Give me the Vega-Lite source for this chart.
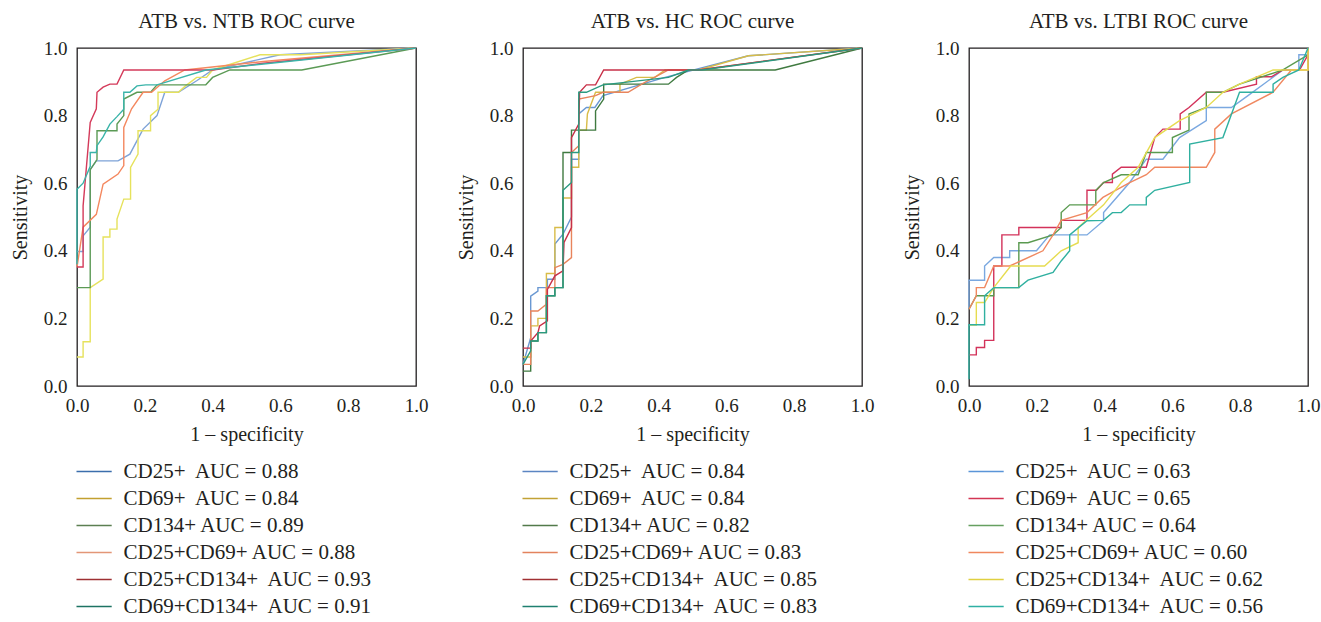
{
 "$schema": "https://vega.github.io/schema/vega-lite/v6.json",
 "padding": {"left": 9, "top": 10, "right": 0, "bottom": 0},
 "background": "white",
 "spacing": 107,
 "bounds": "flush",
 "config": {
  "font": "Liberation Serif",
  "view": {"stroke": "#231f20", "strokeWidth": 1.3},
  "axis": {"grid": false, "ticks": false, "domain": false, "labelFont": "Liberation Serif", "labelFontSize": 19, "labelColor": "#231f20", "titleFont": "Liberation Serif", "titleFontSize": 20, "titleFontWeight": "normal", "titleColor": "#231f20", "labelFlush": false, "labelOverlap": false},
  "title": {"font": "Liberation Serif", "fontSize": 21, "fontWeight": "normal", "color": "#231f20", "offset": 7},
  "line": {"strokeWidth": 1.4}
 },
 "datasets": {
  "ntb": [
   {"s":"CD25+","x":0,"y":0.398},{"s":"CD25+","x":0.018,"y":0.398},{"s":"CD25+","x":0.018,"y":0.444},{"s":"CD25+","x":0.039,"y":0.47},{"s":"CD25+","x":0.039,"y":0.64},{"s":"CD25+","x":0.057,"y":0.666},{"s":"CD25+","x":0.121,"y":0.666},{"s":"CD25+","x":0.156,"y":0.686},{"s":"CD25+","x":0.195,"y":0.76},{"s":"CD25+","x":0.236,"y":0.8},{"s":"CD25+","x":0.259,"y":0.869},{"s":"CD25+","x":0.299,"y":0.869},{"s":"CD25+","x":0.353,"y":0.903},{"s":"CD25+","x":0.4,"y":0.935},{"s":"CD25+","x":0.599,"y":0.98},{"s":"CD25+","x":1,"y":1},
   {"s":"CD69+","x":0,"y":0.086},{"s":"CD69+","x":0.018,"y":0.086},{"s":"CD69+","x":0.018,"y":0.131},{"s":"CD69+","x":0.039,"y":0.131},{"s":"CD69+","x":0.039,"y":0.291},{"s":"CD69+","x":0.077,"y":0.316},{"s":"CD69+","x":0.077,"y":0.441},{"s":"CD69+","x":0.097,"y":0.441},{"s":"CD69+","x":0.097,"y":0.464},{"s":"CD69+","x":0.118,"y":0.464},{"s":"CD69+","x":0.118,"y":0.494},{"s":"CD69+","x":0.138,"y":0.553},{"s":"CD69+","x":0.158,"y":0.553},{"s":"CD69+","x":0.158,"y":0.647},{"s":"CD69+","x":0.18,"y":0.686},{"s":"CD69+","x":0.18,"y":0.755},{"s":"CD69+","x":0.217,"y":0.755},{"s":"CD69+","x":0.217,"y":0.8},{"s":"CD69+","x":0.239,"y":0.819},{"s":"CD69+","x":0.239,"y":0.869},{"s":"CD69+","x":0.299,"y":0.869},{"s":"CD69+","x":0.32,"y":0.888},{"s":"CD69+","x":0.353,"y":0.913},{"s":"CD69+","x":0.382,"y":0.913},{"s":"CD69+","x":0.4,"y":0.935},{"s":"CD69+","x":0.54,"y":0.98},{"s":"CD69+","x":0.66,"y":0.98},{"s":"CD69+","x":1,"y":1},
   {"s":"CD134+","x":0,"y":0.291},{"s":"CD134+","x":0.039,"y":0.291},{"s":"CD134+","x":0.039,"y":0.64},{"s":"CD134+","x":0.059,"y":0.67},{"s":"CD134+","x":0.059,"y":0.755},{"s":"CD134+","x":0.118,"y":0.755},{"s":"CD134+","x":0.118,"y":0.775},{"s":"CD134+","x":0.138,"y":0.8},{"s":"CD134+","x":0.138,"y":0.849},{"s":"CD134+","x":0.177,"y":0.869},{"s":"CD134+","x":0.217,"y":0.869},{"s":"CD134+","x":0.236,"y":0.891},{"s":"CD134+","x":0.38,"y":0.891},{"s":"CD134+","x":0.4,"y":0.913},{"s":"CD134+","x":0.451,"y":0.935},{"s":"CD134+","x":0.663,"y":0.935},{"s":"CD134+","x":1,"y":1},
   {"s":"CD25+CD69+","x":0,"y":0.352},{"s":"CD25+CD69+","x":0.018,"y":0.47},{"s":"CD25+CD69+","x":0.057,"y":0.508},{"s":"CD25+CD69+","x":0.077,"y":0.597},{"s":"CD25+CD69+","x":0.121,"y":0.627},{"s":"CD25+CD69+","x":0.138,"y":0.652},{"s":"CD25+CD69+","x":0.138,"y":0.765},{"s":"CD25+CD69+","x":0.161,"y":0.82},{"s":"CD25+CD69+","x":0.195,"y":0.869},{"s":"CD25+CD69+","x":0.22,"y":0.869},{"s":"CD25+CD69+","x":0.259,"y":0.903},{"s":"CD25+CD69+","x":0.318,"y":0.935},{"s":"CD25+CD69+","x":0.55,"y":0.96},{"s":"CD25+CD69+","x":1,"y":1},
   {"s":"CD25+CD134+","x":0,"y":0.352},{"s":"CD25+CD134+","x":0.018,"y":0.352},{"s":"CD25+CD134+","x":0.018,"y":0.533},{"s":"CD25+CD134+","x":0.039,"y":0.78},{"s":"CD25+CD134+","x":0.057,"y":0.82},{"s":"CD25+CD134+","x":0.059,"y":0.869},{"s":"CD25+CD134+","x":0.077,"y":0.884},{"s":"CD25+CD134+","x":0.097,"y":0.893},{"s":"CD25+CD134+","x":0.118,"y":0.893},{"s":"CD25+CD134+","x":0.138,"y":0.935},{"s":"CD25+CD134+","x":0.4,"y":0.935},{"s":"CD25+CD134+","x":0.55,"y":0.955},{"s":"CD25+CD134+","x":1,"y":1},
   {"s":"CD69+CD134+","x":0,"y":0.36},{"s":"CD69+CD134+","x":0,"y":0.582},{"s":"CD69+CD134+","x":0.018,"y":0.6},{"s":"CD69+CD134+","x":0.039,"y":0.65},{"s":"CD69+CD134+","x":0.039,"y":0.691},{"s":"CD69+CD134+","x":0.057,"y":0.691},{"s":"CD69+CD134+","x":0.059,"y":0.711},{"s":"CD69+CD134+","x":0.077,"y":0.737},{"s":"CD69+CD134+","x":0.097,"y":0.775},{"s":"CD69+CD134+","x":0.118,"y":0.797},{"s":"CD69+CD134+","x":0.138,"y":0.819},{"s":"CD69+CD134+","x":0.138,"y":0.869},{"s":"CD69+CD134+","x":0.156,"y":0.869},{"s":"CD69+CD134+","x":0.177,"y":0.888},{"s":"CD69+CD134+","x":0.203,"y":0.891},{"s":"CD69+CD134+","x":0.236,"y":0.891},{"s":"CD69+CD134+","x":0.38,"y":0.935},{"s":"CD69+CD134+","x":1,"y":1}
  ],
  "hc": [
   {"s":"CD25+","x":0,"y":0.064},{"s":"CD25+","x":0.0227,"y":0.143},{"s":"CD25+","x":0.0227,"y":0.266},{"s":"CD25+","x":0.044,"y":0.281},{"s":"CD25+","x":0.044,"y":0.291},{"s":"CD25+","x":0.072,"y":0.291},{"s":"CD25+","x":0.072,"y":0.316},{"s":"CD25+","x":0.094,"y":0.316},{"s":"CD25+","x":0.094,"y":0.42},{"s":"CD25+","x":0.118,"y":0.449},{"s":"CD25+","x":0.143,"y":0.5},{"s":"CD25+","x":0.143,"y":0.671},{"s":"CD25+","x":0.1645,"y":0.671},{"s":"CD25+","x":0.1645,"y":0.805},{"s":"CD25+","x":0.187,"y":0.824},{"s":"CD25+","x":0.212,"y":0.824},{"s":"CD25+","x":0.236,"y":0.859},{"s":"CD25+","x":0.419,"y":0.913},{"s":"CD25+","x":0.665,"y":0.977},{"s":"CD25+","x":1,"y":1},
   {"s":"CD69+","x":0,"y":0.086},{"s":"CD69+","x":0.0227,"y":0.086},{"s":"CD69+","x":0.0227,"y":0.178},{"s":"CD69+","x":0.044,"y":0.178},{"s":"CD69+","x":0.044,"y":0.2},{"s":"CD69+","x":0.069,"y":0.2},{"s":"CD69+","x":0.069,"y":0.333},{"s":"CD69+","x":0.094,"y":0.333},{"s":"CD69+","x":0.094,"y":0.469},{"s":"CD69+","x":0.118,"y":0.469},{"s":"CD69+","x":0.118,"y":0.556},{"s":"CD69+","x":0.143,"y":0.556},{"s":"CD69+","x":0.143,"y":0.647},{"s":"CD69+","x":0.1645,"y":0.647},{"s":"CD69+","x":0.1645,"y":0.757},{"s":"CD69+","x":0.187,"y":0.757},{"s":"CD69+","x":0.19,"y":0.805},{"s":"CD69+","x":0.214,"y":0.869},{"s":"CD69+","x":0.286,"y":0.869},{"s":"CD69+","x":0.286,"y":0.893},{"s":"CD69+","x":0.335,"y":0.913},{"s":"CD69+","x":0.389,"y":0.913},{"s":"CD69+","x":0.419,"y":0.935},{"s":"CD69+","x":0.517,"y":0.935},{"s":"CD69+","x":0.665,"y":0.977},{"s":"CD69+","x":1,"y":1},
   {"s":"CD134+","x":0,"y":0.044},{"s":"CD134+","x":0.0227,"y":0.044},{"s":"CD134+","x":0.0227,"y":0.133},{"s":"CD134+","x":0.044,"y":0.133},{"s":"CD134+","x":0.044,"y":0.158},{"s":"CD134+","x":0.069,"y":0.158},{"s":"CD134+","x":0.069,"y":0.267},{"s":"CD134+","x":0.094,"y":0.267},{"s":"CD134+","x":0.094,"y":0.291},{"s":"CD134+","x":0.118,"y":0.291},{"s":"CD134+","x":0.118,"y":0.691},{"s":"CD134+","x":0.143,"y":0.691},{"s":"CD134+","x":0.143,"y":0.757},{"s":"CD134+","x":0.214,"y":0.757},{"s":"CD134+","x":0.214,"y":0.814},{"s":"CD134+","x":0.238,"y":0.849},{"s":"CD134+","x":0.238,"y":0.893},{"s":"CD134+","x":0.429,"y":0.893},{"s":"CD134+","x":0.453,"y":0.913},{"s":"CD134+","x":0.488,"y":0.935},{"s":"CD134+","x":0.744,"y":0.935},{"s":"CD134+","x":1,"y":1},
   {"s":"CD25+CD69+","x":0,"y":0.064},{"s":"CD25+CD69+","x":0.0227,"y":0.064},{"s":"CD25+CD69+","x":0.0227,"y":0.222},{"s":"CD25+CD69+","x":0.044,"y":0.222},{"s":"CD25+CD69+","x":0.069,"y":0.242},{"s":"CD25+CD69+","x":0.069,"y":0.291},{"s":"CD25+CD69+","x":0.094,"y":0.291},{"s":"CD25+CD69+","x":0.094,"y":0.35},{"s":"CD25+CD69+","x":0.118,"y":0.36},{"s":"CD25+CD69+","x":0.143,"y":0.38},{"s":"CD25+CD69+","x":0.143,"y":0.691},{"s":"CD25+CD69+","x":0.1645,"y":0.711},{"s":"CD25+CD69+","x":0.1645,"y":0.849},{"s":"CD25+CD69+","x":0.214,"y":0.859},{"s":"CD25+CD69+","x":0.236,"y":0.869},{"s":"CD25+CD69+","x":0.31,"y":0.869},{"s":"CD25+CD69+","x":0.35,"y":0.893},{"s":"CD25+CD69+","x":0.429,"y":0.935},{"s":"CD25+CD69+","x":0.517,"y":0.935},{"s":"CD25+CD69+","x":1,"y":1},
   {"s":"CD25+CD134+","x":0,"y":0.112},{"s":"CD25+CD134+","x":0.0227,"y":0.112},{"s":"CD25+CD134+","x":0.0227,"y":0.133},{"s":"CD25+CD134+","x":0.044,"y":0.158},{"s":"CD25+CD134+","x":0.049,"y":0.178},{"s":"CD25+CD134+","x":0.072,"y":0.193},{"s":"CD25+CD134+","x":0.072,"y":0.286},{"s":"CD25+CD134+","x":0.094,"y":0.326},{"s":"CD25+CD134+","x":0.118,"y":0.341},{"s":"CD25+CD134+","x":0.121,"y":0.425},{"s":"CD25+CD134+","x":0.143,"y":0.469},{"s":"CD25+CD134+","x":0.143,"y":0.735},{"s":"CD25+CD134+","x":0.1645,"y":0.775},{"s":"CD25+CD134+","x":0.167,"y":0.869},{"s":"CD25+CD134+","x":0.187,"y":0.891},{"s":"CD25+CD134+","x":0.214,"y":0.891},{"s":"CD25+CD134+","x":0.238,"y":0.935},{"s":"CD25+CD134+","x":0.517,"y":0.935},{"s":"CD25+CD134+","x":1,"y":1},
   {"s":"CD69+CD134+","x":0,"y":0.064},{"s":"CD69+CD134+","x":0.0227,"y":0.104},{"s":"CD69+CD134+","x":0.0227,"y":0.133},{"s":"CD69+CD134+","x":0.044,"y":0.133},{"s":"CD69+CD134+","x":0.044,"y":0.158},{"s":"CD69+CD134+","x":0.069,"y":0.158},{"s":"CD69+CD134+","x":0.069,"y":0.267},{"s":"CD69+CD134+","x":0.094,"y":0.267},{"s":"CD69+CD134+","x":0.094,"y":0.291},{"s":"CD69+CD134+","x":0.118,"y":0.291},{"s":"CD69+CD134+","x":0.118,"y":0.579},{"s":"CD69+CD134+","x":0.143,"y":0.602},{"s":"CD69+CD134+","x":0.143,"y":0.691},{"s":"CD69+CD134+","x":0.1645,"y":0.691},{"s":"CD69+CD134+","x":0.1645,"y":0.869},{"s":"CD69+CD134+","x":0.187,"y":0.869},{"s":"CD69+CD134+","x":0.236,"y":0.891},{"s":"CD69+CD134+","x":0.429,"y":0.913},{"s":"CD69+CD134+","x":0.488,"y":0.935},{"s":"CD69+CD134+","x":0.527,"y":0.935},{"s":"CD69+CD134+","x":1,"y":1}
  ],
  "ltbi": [
   {"s":"CD25+","x":0,"y":0.227},{"s":"CD25+","x":0,"y":0.313},{"s":"CD25+","x":0.046,"y":0.313},{"s":"CD25+","x":0.046,"y":0.355},{"s":"CD25+","x":0.073,"y":0.38},{"s":"CD25+","x":0.12,"y":0.38},{"s":"CD25+","x":0.12,"y":0.4},{"s":"CD25+","x":0.199,"y":0.4},{"s":"CD25+","x":0.238,"y":0.447},{"s":"CD25+","x":0.348,"y":0.447},{"s":"CD25+","x":0.397,"y":0.489},{"s":"CD25+","x":0.397,"y":0.513},{"s":"CD25+","x":0.474,"y":0.602},{"s":"CD25+","x":0.523,"y":0.671},{"s":"CD25+","x":0.572,"y":0.671},{"s":"CD25+","x":0.621,"y":0.735},{"s":"CD25+","x":0.7,"y":0.785},{"s":"CD25+","x":0.7,"y":0.824},{"s":"CD25+","x":0.774,"y":0.824},{"s":"CD25+","x":0.823,"y":0.859},{"s":"CD25+","x":0.926,"y":0.935},{"s":"CD25+","x":0.973,"y":0.935},{"s":"CD25+","x":0.973,"y":0.98},{"s":"CD25+","x":1,"y":0.98},{"s":"CD25+","x":1,"y":1},
   {"s":"CD69+","x":0,"y":0.092},{"s":"CD69+","x":0.0216,"y":0.092},{"s":"CD69+","x":0.0216,"y":0.114},{"s":"CD69+","x":0.046,"y":0.114},{"s":"CD69+","x":0.046,"y":0.135},{"s":"CD69+","x":0.073,"y":0.135},{"s":"CD69+","x":0.073,"y":0.355},{"s":"CD69+","x":0.097,"y":0.355},{"s":"CD69+","x":0.097,"y":0.447},{"s":"CD69+","x":0.147,"y":0.447},{"s":"CD69+","x":0.147,"y":0.469},{"s":"CD69+","x":0.272,"y":0.469},{"s":"CD69+","x":0.272,"y":0.49},{"s":"CD69+","x":0.348,"y":0.49},{"s":"CD69+","x":0.348,"y":0.579},{"s":"CD69+","x":0.376,"y":0.579},{"s":"CD69+","x":0.397,"y":0.602},{"s":"CD69+","x":0.423,"y":0.602},{"s":"CD69+","x":0.423,"y":0.627},{"s":"CD69+","x":0.449,"y":0.647},{"s":"CD69+","x":0.523,"y":0.647},{"s":"CD69+","x":0.548,"y":0.735},{"s":"CD69+","x":0.572,"y":0.76},{"s":"CD69+","x":0.623,"y":0.76},{"s":"CD69+","x":0.623,"y":0.805},{"s":"CD69+","x":0.649,"y":0.824},{"s":"CD69+","x":0.7,"y":0.869},{"s":"CD69+","x":0.749,"y":0.869},{"s":"CD69+","x":0.848,"y":0.893},{"s":"CD69+","x":0.848,"y":0.915},{"s":"CD69+","x":0.892,"y":0.915},{"s":"CD69+","x":0.926,"y":0.935},{"s":"CD69+","x":0.975,"y":0.935},{"s":"CD69+","x":1,"y":0.98},{"s":"CD69+","x":1,"y":1},
   {"s":"CD134+","x":0,"y":0.227},{"s":"CD134+","x":0.0216,"y":0.267},{"s":"CD134+","x":0.073,"y":0.267},{"s":"CD134+","x":0.073,"y":0.291},{"s":"CD134+","x":0.147,"y":0.291},{"s":"CD134+","x":0.147,"y":0.424},{"s":"CD134+","x":0.174,"y":0.424},{"s":"CD134+","x":0.248,"y":0.447},{"s":"CD134+","x":0.272,"y":0.469},{"s":"CD134+","x":0.272,"y":0.513},{"s":"CD134+","x":0.297,"y":0.536},{"s":"CD134+","x":0.374,"y":0.536},{"s":"CD134+","x":0.374,"y":0.579},{"s":"CD134+","x":0.397,"y":0.602},{"s":"CD134+","x":0.449,"y":0.625},{"s":"CD134+","x":0.499,"y":0.625},{"s":"CD134+","x":0.523,"y":0.691},{"s":"CD134+","x":0.6,"y":0.691},{"s":"CD134+","x":0.6,"y":0.735},{"s":"CD134+","x":0.649,"y":0.757},{"s":"CD134+","x":0.649,"y":0.805},{"s":"CD134+","x":0.7,"y":0.824},{"s":"CD134+","x":0.7,"y":0.869},{"s":"CD134+","x":0.749,"y":0.869},{"s":"CD134+","x":0.798,"y":0.893},{"s":"CD134+","x":0.926,"y":0.935},{"s":"CD134+","x":1,"y":0.98},{"s":"CD134+","x":1,"y":1},
   {"s":"CD25+CD69+","x":0,"y":0.227},{"s":"CD25+CD69+","x":0.0216,"y":0.267},{"s":"CD25+CD69+","x":0.0216,"y":0.291},{"s":"CD25+CD69+","x":0.046,"y":0.291},{"s":"CD25+CD69+","x":0.073,"y":0.355},{"s":"CD25+CD69+","x":0.12,"y":0.355},{"s":"CD25+CD69+","x":0.218,"y":0.4},{"s":"CD25+CD69+","x":0.248,"y":0.447},{"s":"CD25+CD69+","x":0.272,"y":0.49},{"s":"CD25+CD69+","x":0.348,"y":0.513},{"s":"CD25+CD69+","x":0.395,"y":0.558},{"s":"CD25+CD69+","x":0.474,"y":0.602},{"s":"CD25+CD69+","x":0.523,"y":0.625},{"s":"CD25+CD69+","x":0.548,"y":0.647},{"s":"CD25+CD69+","x":0.7,"y":0.647},{"s":"CD25+CD69+","x":0.725,"y":0.691},{"s":"CD25+CD69+","x":0.725,"y":0.76},{"s":"CD25+CD69+","x":0.774,"y":0.805},{"s":"CD25+CD69+","x":0.897,"y":0.869},{"s":"CD25+CD69+","x":0.951,"y":0.935},{"s":"CD25+CD69+","x":1,"y":0.935},{"s":"CD25+CD69+","x":1,"y":1},
   {"s":"CD25+CD134+","x":0,"y":0.18},{"s":"CD25+CD134+","x":0.0216,"y":0.18},{"s":"CD25+CD134+","x":0.0216,"y":0.247},{"s":"CD25+CD134+","x":0.046,"y":0.247},{"s":"CD25+CD134+","x":0.073,"y":0.291},{"s":"CD25+CD134+","x":0.123,"y":0.355},{"s":"CD25+CD134+","x":0.223,"y":0.355},{"s":"CD25+CD134+","x":0.272,"y":0.4},{"s":"CD25+CD134+","x":0.322,"y":0.424},{"s":"CD25+CD134+","x":0.322,"y":0.469},{"s":"CD25+CD134+","x":0.397,"y":0.536},{"s":"CD25+CD134+","x":0.449,"y":0.602},{"s":"CD25+CD134+","x":0.499,"y":0.647},{"s":"CD25+CD134+","x":0.548,"y":0.735},{"s":"CD25+CD134+","x":0.621,"y":0.785},{"s":"CD25+CD134+","x":0.7,"y":0.824},{"s":"CD25+CD134+","x":0.749,"y":0.869},{"s":"CD25+CD134+","x":0.798,"y":0.893},{"s":"CD25+CD134+","x":0.897,"y":0.935},{"s":"CD25+CD134+","x":1,"y":0.935},{"s":"CD25+CD134+","x":1,"y":1},
   {"s":"CD69+CD134+","x":0,"y":0.02},{"s":"CD69+CD134+","x":0,"y":0.181},{"s":"CD69+CD134+","x":0.046,"y":0.181},{"s":"CD69+CD134+","x":0.046,"y":0.267},{"s":"CD69+CD134+","x":0.073,"y":0.291},{"s":"CD69+CD134+","x":0.147,"y":0.291},{"s":"CD69+CD134+","x":0.174,"y":0.313},{"s":"CD69+CD134+","x":0.248,"y":0.336},{"s":"CD69+CD134+","x":0.272,"y":0.37},{"s":"CD69+CD134+","x":0.297,"y":0.4},{"s":"CD69+CD134+","x":0.297,"y":0.447},{"s":"CD69+CD134+","x":0.348,"y":0.489},{"s":"CD69+CD134+","x":0.397,"y":0.49},{"s":"CD69+CD134+","x":0.423,"y":0.513},{"s":"CD69+CD134+","x":0.449,"y":0.513},{"s":"CD69+CD134+","x":0.474,"y":0.536},{"s":"CD69+CD134+","x":0.523,"y":0.536},{"s":"CD69+CD134+","x":0.523,"y":0.558},{"s":"CD69+CD134+","x":0.548,"y":0.579},{"s":"CD69+CD134+","x":0.651,"y":0.602},{"s":"CD69+CD134+","x":0.651,"y":0.716},{"s":"CD69+CD134+","x":0.749,"y":0.735},{"s":"CD69+CD134+","x":0.798,"y":0.869},{"s":"CD69+CD134+","x":0.897,"y":0.869},{"s":"CD69+CD134+","x":0.897,"y":0.893},{"s":"CD69+CD134+","x":0.926,"y":0.913},{"s":"CD69+CD134+","x":0.973,"y":0.935},{"s":"CD69+CD134+","x":1,"y":1}
  ]
 },
 "resolve": {"scale": {"color": "independent"}, "legend": {"color": "independent"}},
 "hconcat": [
  {
   "width": 339, "height": 338,
   "title": "ATB vs. NTB ROC curve",
   "data": {"name": "ntb"},
   "encoding": {
    "x": {"field": "x", "type": "quantitative", "scale": {"domain": [0, 1], "nice": false}, "axis": {"title": "1 – specificity", "values": [0, 0.2, 0.4, 0.6, 0.8, 1], "format": ".1f", "labelPadding": 10, "titlePadding": 9}},
    "y": {"field": "y", "type": "quantitative", "scale": {"domain": [0, 1], "nice": false}, "axis": {"title": "Sensitivity", "values": [0, 0.2, 0.4, 0.6, 0.8, 1], "format": ".1f", "labelPadding": 10, "titlePadding": 13}},
    "order": [{"field": "x", "type": "quantitative"}, {"field": "y", "type": "quantitative"}]
   },
   "layer": [
    {"mark": {"type": "line"}, "encoding": {"color": {"field": "s", "type": "nominal", "scale": {"domain": ["CD25+", "CD69+", "CD134+", "CD25+CD69+", "CD25+CD134+", "CD69+CD134+"], "range": ["#7ea3d8", "#e6e25c", "#5b9a55", "#f4885f", "#d43a5a", "#3ab4a9"]}, "legend": null}}},
    {"transform": [{"filter": "false"}], "mark": {"type": "line"}, "encoding": {"color": {"field": "s", "type": "nominal", "scale": {"domain": ["CD25+", "CD69+", "CD134+", "CD25+CD69+", "CD25+CD134+", "CD69+CD134+"], "range": ["#3b6eac", "#c2a030", "#5c7f52", "#e39677", "#9e3033", "#1d7363"]}, "legend": {"title": null, "orient": "none", "legendX": -1, "legendY": 413, "direction": "vertical", "symbolType": "M-2.2,0H2.2", "symbolSize": 256, "symbolStrokeWidth": 2.2, "symbolOffset": 7.6, "labelOffset": 19, "labelFont": "Liberation Serif", "labelFontSize": 21, "labelColor": "#231f20", "rowPadding": 5, "padding": 0, "labelLimit": 0, "labelExpr": "{'CD25+': 'CD25+\u00a0 AUC = 0.88', 'CD69+': 'CD69+\u00a0 AUC = 0.84', 'CD134+': 'CD134+ AUC = 0.89', 'CD25+CD69+': 'CD25+CD69+ AUC = 0.88', 'CD25+CD134+': 'CD25+CD134+\u00a0 AUC = 0.93', 'CD69+CD134+': 'CD69+CD134+\u00a0 AUC = 0.91'}[datum.label]"}}}}
   ],
   "resolve": {"scale": {"color": "independent"}}
  },
  {
   "width": 339, "height": 338,
   "title": "ATB vs. HC ROC curve",
   "data": {"name": "hc"},
   "encoding": {
    "x": {"field": "x", "type": "quantitative", "scale": {"domain": [0, 1], "nice": false}, "axis": {"title": "1 – specificity", "values": [0, 0.2, 0.4, 0.6, 0.8, 1], "format": ".1f", "labelPadding": 10, "titlePadding": 9}},
    "y": {"field": "y", "type": "quantitative", "scale": {"domain": [0, 1], "nice": false}, "axis": {"title": "Sensitivity", "values": [0, 0.2, 0.4, 0.6, 0.8, 1], "format": ".1f", "labelPadding": 10, "titlePadding": 13}},
    "order": [{"field": "x", "type": "quantitative"}, {"field": "y", "type": "quantitative"}]
   },
   "layer": [
    {"mark": {"type": "line"}, "encoding": {"color": {"field": "s", "type": "nominal", "scale": {"domain": ["CD25+", "CD69+", "CD134+", "CD25+CD69+", "CD25+CD134+", "CD69+CD134+"], "range": ["#6a98d2", "#d8bc48", "#3f7a40", "#e8845c", "#c83048", "#2a9a80"]}, "legend": null}}},
    {"transform": [{"filter": "false"}], "mark": {"type": "line"}, "encoding": {"color": {"field": "s", "type": "nominal", "scale": {"domain": ["CD25+", "CD69+", "CD134+", "CD25+CD69+", "CD25+CD134+", "CD69+CD134+"], "range": ["#5b85c2", "#c2a235", "#527a4a", "#e3835e", "#a13033", "#1f8070"]}, "legend": {"title": null, "orient": "none", "legendX": -1, "legendY": 413, "direction": "vertical", "symbolType": "M-2.2,0H2.2", "symbolSize": 256, "symbolStrokeWidth": 2.2, "symbolOffset": 7.6, "labelOffset": 19, "labelFont": "Liberation Serif", "labelFontSize": 21, "labelColor": "#231f20", "rowPadding": 5, "padding": 0, "labelLimit": 0, "labelExpr": "{'CD25+': 'CD25+\u00a0 AUC = 0.84', 'CD69+': 'CD69+\u00a0 AUC = 0.84', 'CD134+': 'CD134+ AUC = 0.82', 'CD25+CD69+': 'CD25+CD69+ AUC = 0.83', 'CD25+CD134+': 'CD25+CD134+\u00a0 AUC = 0.85', 'CD69+CD134+': 'CD69+CD134+\u00a0 AUC = 0.83'}[datum.label]"}}}}
   ],
   "resolve": {"scale": {"color": "independent"}}
  },
  {
   "width": 339, "height": 338,
   "title": "ATB vs. LTBI ROC curve",
   "data": {"name": "ltbi"},
   "encoding": {
    "x": {"field": "x", "type": "quantitative", "scale": {"domain": [0, 1], "nice": false}, "axis": {"title": "1 – specificity", "values": [0, 0.2, 0.4, 0.6, 0.8, 1], "format": ".1f", "labelPadding": 10, "titlePadding": 9}},
    "y": {"field": "y", "type": "quantitative", "scale": {"domain": [0, 1], "nice": false}, "axis": {"title": "Sensitivity", "values": [0, 0.2, 0.4, 0.6, 0.8, 1], "format": ".1f", "labelPadding": 10, "titlePadding": 13}},
    "order": [{"field": "x", "type": "quantitative"}, {"field": "y", "type": "quantitative"}]
   },
   "layer": [
    {"mark": {"type": "line"}, "encoding": {"color": {"field": "s", "type": "nominal", "scale": {"domain": ["CD25+", "CD69+", "CD134+", "CD25+CD69+", "CD25+CD134+", "CD69+CD134+"], "range": ["#7aa8e0", "#d3325a", "#5a9a50", "#f08860", "#e6dc50", "#30b0a0"]}, "legend": null}}},
    {"transform": [{"filter": "false"}], "mark": {"type": "line"}, "encoding": {"color": {"field": "s", "type": "nominal", "scale": {"domain": ["CD25+", "CD69+", "CD134+", "CD25+CD69+", "CD25+CD134+", "CD69+CD134+"], "range": ["#5a95d8", "#d33553", "#66a060", "#f0875e", "#e0d040", "#2fb0a4"]}, "legend": {"title": null, "orient": "none", "legendX": -1, "legendY": 413, "direction": "vertical", "symbolType": "M-2.2,0H2.2", "symbolSize": 256, "symbolStrokeWidth": 2.2, "symbolOffset": 7.6, "labelOffset": 19, "labelFont": "Liberation Serif", "labelFontSize": 21, "labelColor": "#231f20", "rowPadding": 5, "padding": 0, "labelLimit": 0, "labelExpr": "{'CD25+': 'CD25+\u00a0 AUC = 0.63', 'CD69+': 'CD69+\u00a0 AUC = 0.65', 'CD134+': 'CD134+ AUC = 0.64', 'CD25+CD69+': 'CD25+CD69+ AUC = 0.60', 'CD25+CD134+': 'CD25+CD134+\u00a0 AUC = 0.62', 'CD69+CD134+': 'CD69+CD134+\u00a0 AUC = 0.56'}[datum.label]"}}}}
   ],
   "resolve": {"scale": {"color": "independent"}}
  }
 ]
}
